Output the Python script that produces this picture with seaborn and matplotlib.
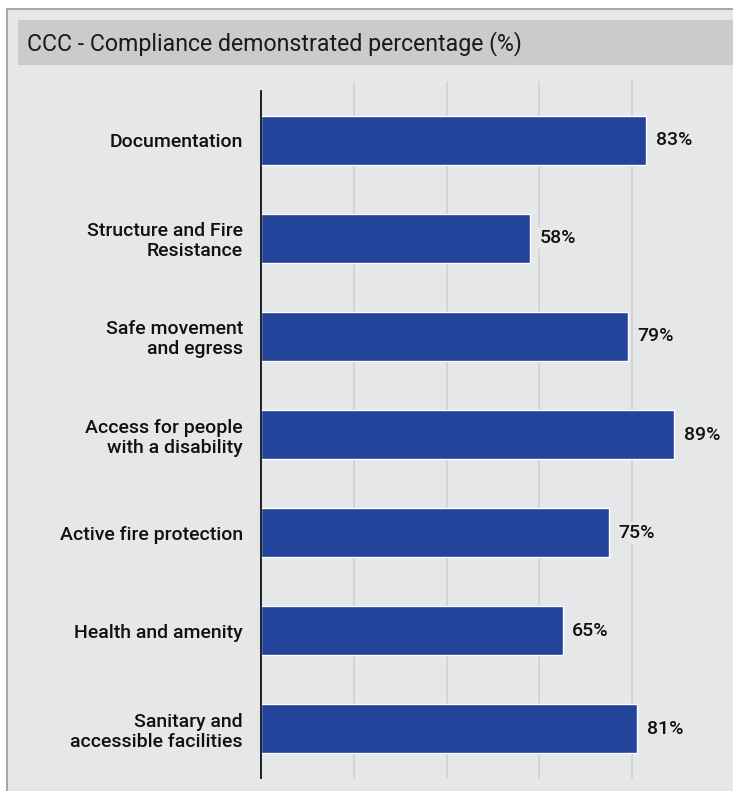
import matplotlib
matplotlib.use("Agg")
import matplotlib.pyplot as plt
from matplotlib.patches import Rectangle
import pandas as pd
import seaborn as sns

# Compliance categories and their demonstrated percentages
categories = [
    "Documentation",
    "Structure and Fire\nResistance",
    "Safe movement\nand egress",
    "Access for people\nwith a disability",
    "Active fire protection",
    "Health and amenity",
    "Sanitary and\naccessible facilities",
]
values = [83, 58, 79, 89, 75, 65, 81]
grid_ticks = [20, 40, 60, 80]
title = "CCC - Compliance demonstrated percentage (%)"

PANEL = "#e6e7e9"
TITLE_BAR = "#cbcbcb"
BAR = "#22449a"
GRID = "#d2d3d6"

sns.set_theme(style="white")
plt.rcParams["font.family"] = ["Roboto", "DejaVu Sans"]

W, H = 733, 791
fig = plt.figure(figsize=(W / 100, H / 100), dpi=100)
fig.patch.set_facecolor("white")

# Outer panel and title strip (pixel coordinates converted to figure fractions)
def fx(px):
    return px / W

def fy(py):
    return 1 - py / H

fig.add_artist(Rectangle((fx(7), -0.05), 1.1 - fx(7), fy(9) + 0.05,
                         transform=fig.transFigure, facecolor=PANEL,
                         edgecolor="#9a9a9a", linewidth=1.2, zorder=0))
fig.add_artist(Rectangle((fx(18), fy(65)), 1.1 - fx(18), fy(20) - fy(65),
                         transform=fig.transFigure, facecolor=TITLE_BAR,
                         edgecolor="none", zorder=1))
fig.text(fx(27), fy(44), title, ha="left", va="center", fontsize=16.7,
         color="#1a1a1a", zorder=2)

ax = fig.add_axes([fx(261), fy(778), 1 - fx(261), fy(91) - fy(778)])
ax.set_facecolor(PANEL)
ax.patch.set_alpha(0)

df = pd.DataFrame({"category": categories, "value": values})
sns.barplot(data=df, x="value", y="category", orient="h", color=BAR,
            width=0.5, saturation=1, ax=ax, zorder=3)

ax.set_xlim(0, 472 / 4.64)
ax.set_ylim(len(categories) - 0.5, -0.5)

for t in grid_ticks:
    ax.axvline(t, ymin=0, ymax=1.013, color=GRID, linewidth=1.3, zorder=1,
               clip_on=False)

for i, v in enumerate(values):
    ax.text(v + 2.1, i, f"{v}%", ha="left", va="center", fontsize=14,
            fontweight="medium", color="#111111", zorder=4,
            bbox=dict(facecolor=PANEL, edgecolor="none", pad=1.5))

ax.set_xlabel("")
ax.set_ylabel("")
ax.set_xticks([])
ax.tick_params(axis="y", length=0, pad=13)
for lbl in ax.get_yticklabels():
    lbl.set_fontsize(14)
    lbl.set_fontweight("medium")
    lbl.set_color("#111111")
    lbl.set_multialignment("right")
    lbl.set_linespacing(1.15)

for side in ["top", "right", "bottom"]:
    ax.spines[side].set_visible(False)
ax.spines["left"].set_color("#111111")
ax.spines["left"].set_linewidth(1.3)
ax.spines["left"].set_zorder(5)

fig.savefig("out.png", dpi=100, facecolor=fig.get_facecolor())
